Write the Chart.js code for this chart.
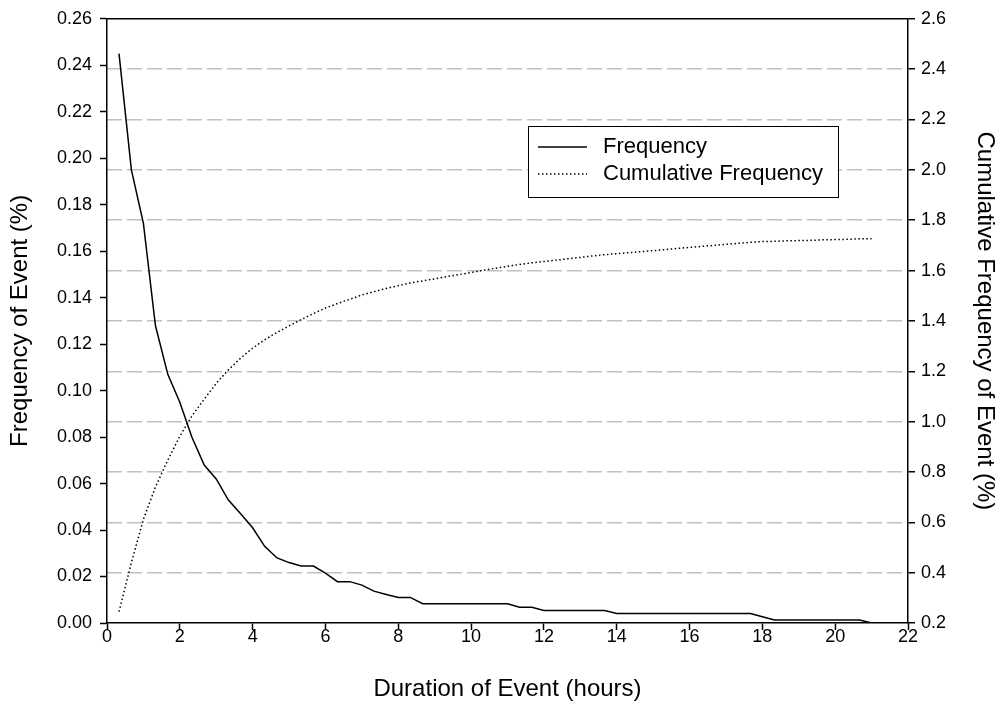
<!DOCTYPE html>
<html>
<head>
<meta charset="utf-8">
<script src="https://cdn.jsdelivr.net/npm/chart.js@4.4.0/dist/chart.umd.min.js"></script>
<style>
  html, body { margin: 0; padding: 0; background: #fff; }
</style>
</head>
<body>
<canvas id="chart" width="1002" height="708"></canvas>
<script>
// Event duration in hours (20 minute bins)
const hours = [
  0.33, 0.67, 1, 1.33, 1.67, 2, 2.33, 2.67, 3, 3.33, 3.67, 4, 4.33, 4.67, 5,
  5.33, 5.67, 6, 6.33, 6.67, 7, 7.33, 7.67, 8, 8.33, 8.67, 9, 9.33, 9.67, 10,
  10.33, 10.67, 11, 11.33, 11.67, 12, 12.33, 12.67, 13, 13.33, 13.67, 14,
  14.33, 14.67, 15, 15.33, 15.67, 16, 16.33, 16.67, 17, 17.33, 17.67, 18,
  18.33, 18.67, 19, 19.33, 19.67, 20, 20.33, 20.67, 21,
];

// Frequency of event (%), left axis
const frequency = [
  0.245, 0.195, 0.172, 0.128, 0.107, 0.095, 0.08, 0.068, 0.062, 0.053, 0.047,
  0.041, 0.033, 0.028, 0.026, 0.0245, 0.0245, 0.0215, 0.0178, 0.0178, 0.0163,
  0.0137, 0.0123, 0.011, 0.011, 0.0083, 0.0083, 0.0083, 0.0083, 0.0083, 0.0083,
  0.0083, 0.0083, 0.0068, 0.0068, 0.0054, 0.0054, 0.0054, 0.0054, 0.0054,
  0.0054, 0.0041, 0.0041, 0.0041, 0.0041, 0.0041, 0.0041, 0.0041, 0.0041,
  0.0041, 0.0041, 0.0041, 0.0041, 0.0027, 0.0013, 0.0013, 0.0013, 0.0013,
  0.0013, 0.0013, 0.0013, 0.0013, 0,
];

// Cumulative frequency (%), right axis
const cumulative = [
  0.245, 0.44, 0.612, 0.74, 0.847, 0.942, 1.022, 1.089, 1.152, 1.205, 1.252,
  1.292, 1.325, 1.354, 1.38, 1.405, 1.429, 1.451, 1.469, 1.486, 1.503, 1.516,
  1.529, 1.54, 1.551, 1.559, 1.567, 1.576, 1.584, 1.592, 1.601, 1.609, 1.617,
  1.624, 1.631, 1.636, 1.641, 1.647, 1.652, 1.658, 1.663, 1.667, 1.671, 1.675,
  1.679, 1.683, 1.688, 1.692, 1.696, 1.7, 1.704, 1.708, 1.712, 1.715, 1.716,
  1.718, 1.719, 1.72, 1.722, 1.723, 1.724, 1.726, 1.726,
];

const seriesNames = ["Frequency", "Cumulative Frequency"];

const FONT = "'Liberation Sans', Arial, sans-serif";
const TICK_FS = 18;
const LEGEND_FS = 22;
const TITLE_FS = 24;

// top edge of the plot box + legend
const framePlugin = {
  id: "frame",
  afterDraw(chart) {
    const { ctx, chartArea: a } = chart;
    ctx.save();
    ctx.strokeStyle = "#000";
    ctx.lineWidth = 1.5;
    ctx.beginPath();
    ctx.moveTo(a.left, a.top);
    ctx.lineTo(a.right, a.top);
    ctx.stroke();

    // legend box
    const lx = 528, ly = 126, lw = 310, lh = 71;
    ctx.fillStyle = "#fff";
    ctx.fillRect(lx, ly, lw, lh);
    ctx.lineWidth = 1;
    ctx.strokeRect(lx + 0.5, ly + 0.5, lw, lh);

    chart.data.datasets.forEach((ds, i) => {
      const y = ly + 21 + i * 27;
      ctx.strokeStyle = ds.borderColor;
      ctx.lineWidth = ds.borderWidth;
      ctx.setLineDash(ds.borderDash || []);
      ctx.beginPath();
      ctx.moveTo(lx + 10, y);
      ctx.lineTo(lx + 59, y);
      ctx.stroke();
      ctx.setLineDash([]);
      ctx.fillStyle = "#000";
      ctx.font = LEGEND_FS + "px " + FONT;
      ctx.textBaseline = "middle";
      ctx.textAlign = "left";
      ctx.fillText(ds.label, lx + 75, y);
    });
    ctx.restore();
  },
};

const chart = document.querySelector("#chart").getContext("2d");

new Chart(chart, {
  type: "line",
  data: {
    datasets: [
      {
        label: seriesNames[0],
        data: hours.map((h, i) => ({ x: h, y: frequency[i] })),
        borderColor: "#000",
        borderWidth: 1.5,
        pointRadius: 0,
        yAxisID: "y",
      },
      {
        label: seriesNames[1],
        data: hours.map((h, i) => ({ x: h, y: cumulative[i] })),
        borderColor: "#000",
        borderWidth: 1.5,
        borderDash: [1.5, 2.5],
        pointRadius: 0,
        yAxisID: "y2",
      },
    ],
  },
  options: {
    responsive: false,
    animation: false,
    layout: { padding: { top: 15, left: 0, right: 0, bottom: 0 } },
    plugins: { legend: { display: false }, tooltip: { enabled: false } },
    scales: {
      x: {
        type: "linear",
        min: 0,
        max: 22,
        afterFit: (s) => { s.height = 85; },
        ticks: {
          stepSize: 2,
          color: "#000",
          padding: -4,
          font: { family: FONT, size: TICK_FS },
        },
        grid: { drawOnChartArea: false, tickLength: 7, tickColor: "#000", tickWidth: 1.5 },
        border: { color: "#000", width: 1.5 },
        title: {
          display: true,
          text: "Duration of Event (hours)",
          color: "#000",
          padding: { top: 0, bottom: 4 },
          font: { family: FONT, size: TITLE_FS },
        },
      },
      y: {
        position: "left",
        min: 0,
        max: 0.26,
        afterFit: (s) => { s.width = 107; },
        ticks: {
          stepSize: 0.02,
          color: "#000",
          padding: 8,
          callback: (v) => v.toFixed(2),
          font: { family: FONT, size: TICK_FS },
        },
        grid: { drawOnChartArea: false, tickLength: 7, tickColor: "#000", tickWidth: 1.5 },
        border: { color: "#000", width: 1.5 },
        title: {
          display: true,
          text: "Frequency of Event (%)",
          color: "#000",
          padding: { top: 6, bottom: 0 },
          font: { family: FONT, size: TITLE_FS },
        },
      },
      y2: {
        position: "right",
        min: 0.2,
        max: 2.6,
        afterFit: (s) => { s.width = 94; },
        ticks: {
          stepSize: 0.2,
          color: "#000",
          padding: 6,
          callback: (v) => v.toFixed(1),
          font: { family: FONT, size: TICK_FS },
        },
        grid: {
          drawOnChartArea: true,
          color: (c) =>
            c.tick && (Math.abs(c.tick.value - 0.2) < 1e-6 || Math.abs(c.tick.value - 2.6) < 1e-6)
              ? "rgba(0,0,0,0)"
              : "#c0c0c0",
          lineWidth: 1.5,
          tickLength: 7,
          tickColor: "#000",
          tickWidth: 1.5,
        },
        border: { color: "#000", width: 1.5, dash: [15, 5] },
        title: {
          display: true,
          text: "Cumulative Frequency of Event (%)",
          color: "#000",
          padding: { top: 3, bottom: 0 },
          font: { family: FONT, size: TITLE_FS },
        },
      },
    },
  },
  plugins: [framePlugin],
});
</script>
</body>
</html>
